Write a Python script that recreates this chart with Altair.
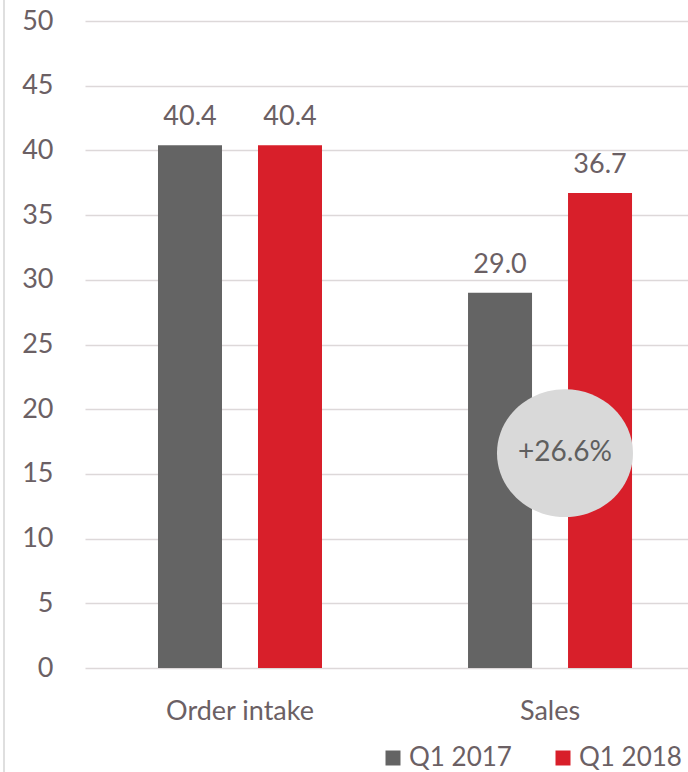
import altair as alt
import pandas as pd

categories = ["Order intake", "Sales"]
series = ["Q1 2017", "Q1 2018"]
q1_2017 = [40.4, 29.0]
q1_2018 = [40.4, 36.7]
growth_category = ["Sales"]
growth_value = [16.6]
growth_label = ["+26.6%"]

colors = ["#646464", "#d81f2a"]
text_color = "#6b6064"
font = "Lato"
fs = 27

rows = []
for i, c in enumerate(categories):
    rows.append({"category": c, "series": series[0], "value": q1_2017[i]})
    rows.append({"category": c, "series": series[1], "value": q1_2018[i]})
df = pd.DataFrame(rows)
gdf = pd.DataFrame({"category": growth_category, "value": growth_value, "label": growth_label})

x_enc = alt.X(
    "category:N",
    sort=categories,
    scale=alt.Scale(paddingInner=0.471, paddingOuter=0.208, align=0.566),
    axis=alt.Axis(title=None, labelAngle=0, ticks=False, domain=False, grid=False,
                  labelPadding=51, labelBaseline="alphabetic"),
)
xo_enc = alt.XOffset("series:N", sort=series, scale=alt.Scale(paddingInner=0.36, paddingOuter=0))
y_enc = alt.Y(
    "value:Q",
    scale=alt.Scale(domain=[0, 50], nice=False),
    axis=alt.Axis(title=None, values=list(range(0, 51, 5)), ticks=False, domain=False,
                  labelPadding=32, grid=True),
)

bars = alt.Chart(df).mark_bar().encode(
    x=x_enc,
    xOffset=xo_enc,
    y=y_enc,
    color=alt.Color(
        "series:N",
        sort=series,
        scale=alt.Scale(domain=series, range=colors),
        legend=alt.Legend(
            title=None, orient="none", legendX=295, legendY=724, direction="horizontal",
            symbolType="square", symbolSize=225, symbolStrokeWidth=0, labelFontSize=26,
            labelFont=font, labelColor=text_color, labelOffset=3, columnPadding=38,
            padding=0,
        ),
    ),
)

labels = alt.Chart(df).mark_text(font=font, fontSize=fs, color=text_color, dy=-20,
                                 baseline="alphabetic").encode(
    x=alt.X("category:N", sort=categories),
    xOffset=alt.XOffset("series:N", sort=series),
    y="value:Q",
    text=alt.Text("value:Q", format=".1f"),
)

ellipse_path = "M -0.78 0 A 1 0.94 0 1 0 1.22 0 A 1 0.94 0 1 0 -0.78 0 Z"
bubble = alt.Chart(gdf).mark_point(shape=ellipse_path, filled=True, size=136 * 136,
                                   color="#d9d9d9", opacity=1, strokeWidth=0).encode(
    x=alt.X("category:N", sort=categories),
    y="value:Q",
)
bubble_text = alt.Chart(gdf).mark_text(font=font, fontSize=28, color="#5f5f5f", dx=15,
                                       baseline="middle").encode(
    x=alt.X("category:N", sort=categories),
    y="value:Q",
    text="label:N",
)

border = alt.Chart(pd.DataFrame({"a": [0]})).mark_rule(color="#d4d4d4", strokeWidth=1.5).encode(
    x=alt.value(-81), y=alt.value(-21), y2=alt.value(751)
)

chart = alt.layer(border, bars, labels, bubble, bubble_text).properties(
    width=603, height=647,
    autosize=alt.AutoSizeParams(type="none"),
    padding={"left": 85, "top": 21, "right": 0, "bottom": 104},
).configure_view(stroke=None).configure_axis(
    labelFont=font, labelFontSize=fs, labelColor=text_color,
    gridColor="#ddd8d9", gridWidth=1.3,
)

chart.save("out.html", embed_options={"renderer": "svg", "actions": False})
